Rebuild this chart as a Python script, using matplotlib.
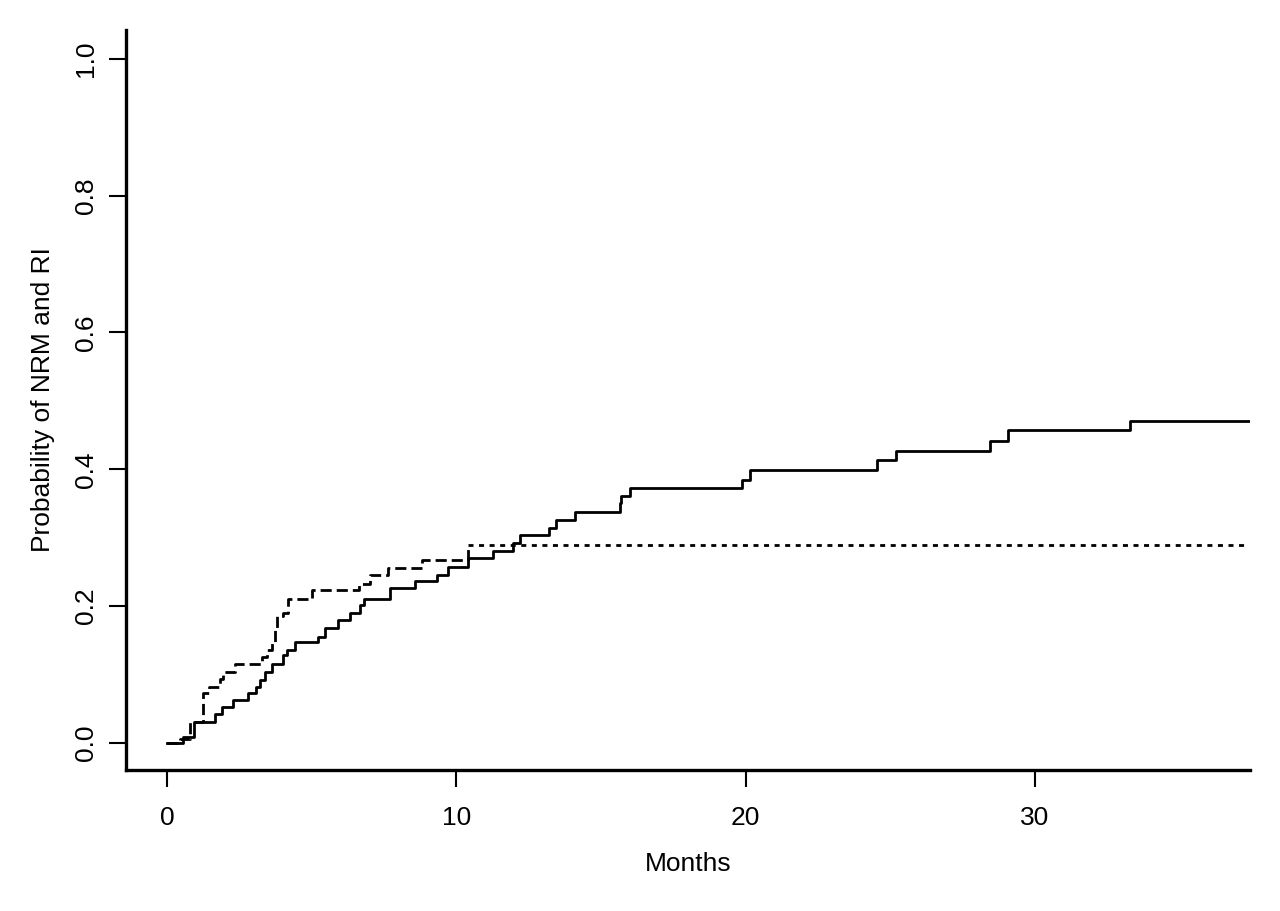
import matplotlib
matplotlib.use("Agg")
import matplotlib.pyplot as plt

plt.rcParams['font.family'] = ['Liberation Sans', 'DejaVu Sans']

# cumulative incidence, solid curve (NRM)
nrm_months = [0, 0.56, 0.93, 1.66, 1.89, 2.29, 2.81, 3.09, 3.21, 3.39, 3.62, 4.02,
              4.13, 4.42, 5.22, 5.46, 5.92, 6.33, 6.67, 6.79, 7.71, 8.57, 9.32,
              9.72, 10.41, 11.27, 11.96, 12.2, 13.2, 13.45, 14.1, 15.66, 15.7,
              16.0, 19.86, 20.15, 24.55, 25.2, 28.45, 29.05, 33.29, 37.4]
nrm_prob = [0, 0.009, 0.031, 0.043, 0.052, 0.063, 0.073, 0.082, 0.092, 0.104, 0.115,
            0.129, 0.136, 0.148, 0.155, 0.168, 0.180, 0.190, 0.202, 0.211, 0.226,
            0.236, 0.246, 0.257, 0.270, 0.280, 0.292, 0.304, 0.314, 0.326, 0.337,
            0.350, 0.361, 0.373, 0.385, 0.399, 0.414, 0.427, 0.442, 0.457, 0.471,
            0.471]

# cumulative incidence, dashed curve (RI)
ri_months = [0, 0.45, 0.8, 1.26, 1.46, 1.83, 1.95, 2.35, 3.27, 3.44, 3.62, 3.73,
             3.79, 4.02, 4.19, 5.0, 6.62, 7.02, 7.65, 8.8, 10.41, 37.4]
ri_prob = [0, 0.006, 0.031, 0.073, 0.082, 0.094, 0.104, 0.115, 0.126, 0.136, 0.148,
           0.168, 0.185, 0.190, 0.210, 0.224, 0.232, 0.246, 0.255, 0.268, 0.290,
           0.290]

x_ticks = [0, 10, 20, 30]
y_ticks = [0.0, 0.2, 0.4, 0.6, 0.8, 1.0]

fig = plt.figure(figsize=(12.8, 9.11), dpi=100)
ax = fig.add_axes([0.0984, 0.1548, 0.8782, 0.8122])

ax.step(nrm_months, nrm_prob, where='post', color='black', lw=2.0)
# steep part dashed, long flat tail dotted
ax.step(ri_months[:-1], ri_prob[:-1], where='post', color='black', lw=2.0,
        dashes=(4, 1.8))
ax.plot(ri_months[-2:], ri_prob[-2:], color='black', lw=2.0, dashes=(1.8, 2.0))

ax.set_xlim(-1.42, 37.43)
ax.set_ylim(-0.0395, 1.042)

for side in ['top', 'right']:
    ax.spines[side].set_visible(False)
for side in ['left', 'bottom']:
    ax.spines[side].set_linewidth(2.4)

ax.set_xticks(x_ticks)
ax.set_xticklabels([str(t) for t in x_ticks])
ax.set_yticks(y_ticks)
ax.set_yticklabels(['%.1f' % t for t in y_ticks], rotation=90, va='center')
ax.tick_params(axis='both', length=12, width=1.5, labelsize=19)
ax.tick_params(axis='x', pad=14)
ax.tick_params(axis='y', pad=8)

ax.set_xlabel('Months', fontsize=19, labelpad=16)
ax.set_ylabel('Probability of NRM and RI', fontsize=19, labelpad=14)

fig.savefig('out.png', dpi=100)
